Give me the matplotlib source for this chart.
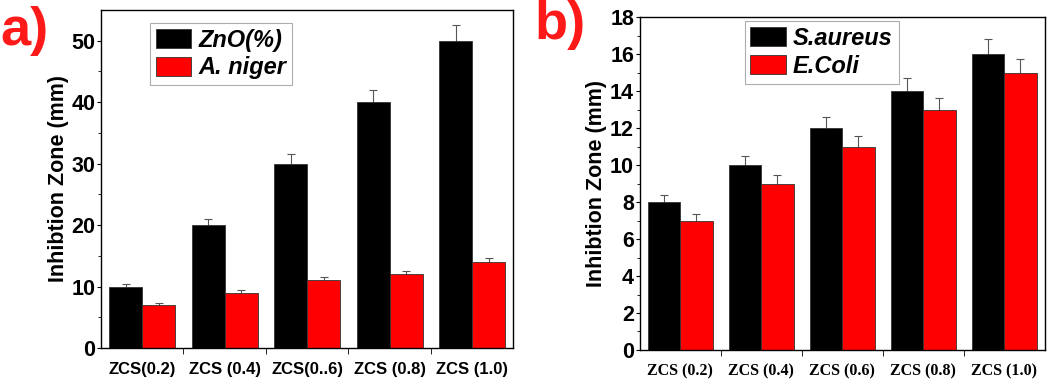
import matplotlib
matplotlib.use('Agg')
import matplotlib.pyplot as plt
import numpy as np

labels_a = ['ZCS(0.2)', 'ZCS (0.4)', 'ZCS(0..6)', 'ZCS (0.8)', 'ZCS (1.0)']
zno = [10, 20, 30, 40, 50]
zno_err = [0.5, 1.0, 1.5, 2.0, 2.5]
niger = [7, 9, 11, 12, 14]
niger_err = [0.4, 0.45, 0.55, 0.6, 0.7]

labels_b = ['ZCS (0.2)', 'ZCS (0.4)', 'ZCS (0.6)', 'ZCS (0.8)', 'ZCS (1.0)']
aureus = [8, 10, 12, 14, 16]
aureus_err = [0.4, 0.5, 0.6, 0.7, 0.8]
coli = [7, 9, 11, 13, 15]
coli_err = [0.35, 0.45, 0.55, 0.65, 0.75]

plt.rcParams['font.family'] = 'Liberation Sans'
plt.rcParams['font.weight'] = 'bold'

fig = plt.figure(figsize=(10.52, 3.8), dpi=100)
ax1 = fig.add_axes([0.096, 0.084, 0.392, 0.89])
ax2 = fig.add_axes([0.608, 0.079, 0.385, 0.876])

w = 0.4
x = np.arange(1, 6)


def draw(ax, y1, e1, y2, e2, n1, n2, ylim, major, minor, labels, tickfont, legpos):
    # error bars go behind the bars so only the upper half shows
    ax.errorbar(x - w / 2, y1, yerr=e1, fmt='none', ecolor='#555555',
                elinewidth=0.8, capsize=3, capthick=0.8, zorder=1)
    ax.errorbar(x + w / 2, y2, yerr=e2, fmt='none', ecolor='#555555',
                elinewidth=0.8, capsize=3, capthick=0.8, zorder=1)
    ax.bar(x - w / 2, y1, w, color='black', edgecolor='#333333', lw=0.6,
           label=n1, zorder=2)
    ax.bar(x + w / 2, y2, w, color='#ff0000', edgecolor='#333333', lw=0.6,
           label=n2, zorder=2)
    ax.set_xlim(0.5, 5.5)
    ax.set_ylim(0, ylim)
    ax.set_yticks(np.arange(0, ylim + 0.1, major))
    ax.set_yticks(np.arange(minor, ylim, major), minor=True)
    ax.set_xticks(x)
    ax.set_xticklabels(labels, **tickfont)
    ax.set_xticks(np.arange(1.5, 5.5, 1), minor=True)
    ax.tick_params(axis='x', which='major', length=0, pad=10)
    ax.tick_params(axis='x', which='minor', length=4, direction='out')
    ax.tick_params(axis='y', which='major', length=3, direction='out',
                   labelsize=15.5, pad=1)
    ax.tick_params(axis='y', which='minor', length=2, direction='out')
    for lab in ax.get_yticklabels():
        lab.set_fontweight('bold')
    for s in ax.spines.values():
        s.set_linewidth(1.0)
    ax.set_ylabel('Inhibtion Zone (mm)', fontsize=15.5, fontweight='bold', labelpad=2)
    leg = ax.legend(loc='upper left', bbox_to_anchor=legpos, borderaxespad=0,
                    prop={'style': 'italic', 'weight': 'bold', 'size': 17},
                    fancybox=False, edgecolor='#999999', handlelength=1.5,
                    handleheight=0.85, borderpad=0.25, labelspacing=0.2,
                    handletextpad=0.3)
    leg.get_frame().set_linewidth(0.8)


draw(ax1, zno, zno_err, niger, niger_err, 'ZnO(%)', 'A. niger', 55, 10, 5,
     labels_a, dict(fontsize=12, fontweight='bold'), (0.119, 0.962))
draw(ax2, aureus, aureus_err, coli, coli_err, 'S.aureus', 'E.Coli', 18, 2, 1,
     labels_b, dict(fontsize=11.5, fontweight='bold', family='Liberation Serif'),
     (0.259, 0.988))

fig.text(0.0, 0.985, 'a)', color='#ff1a1a', fontsize=39, fontweight='bold', va='top')
fig.text(0.508, 1.0, 'b)', color='#ff1a1a', fontsize=39, fontweight='bold', va='top')

fig.savefig('out.png', dpi=100)
